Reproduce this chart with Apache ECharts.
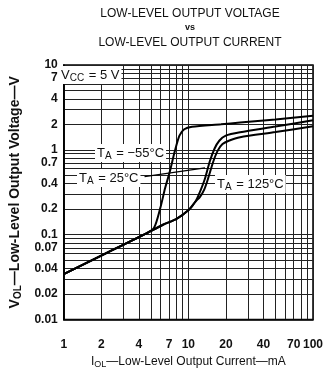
<!DOCTYPE html>
<html>
<head>
<meta charset="utf-8">
<script src="https://cdn.jsdelivr.net/npm/echarts@6/dist/echarts.min.js"></script>
<style>html,body{margin:0;padding:0;background:#fff;}#c{width:326px;height:374px;}</style>
</head>
<body>
<div id="c"></div>
<script>
// ---- data ----
const xTickLabels = [1, 2, 4, 7, 10, 20, 40, 70, 100];
const yTickLabels = [0.01, 0.02, 0.04, 0.07, 0.1, 0.2, 0.4, 0.7, 1, 2, 4, 7, 10];
const xGridValues = [1, 2, 3, 4, 5, 6, 7, 8, 9, 10, 20, 30, 40, 50, 60, 70, 80, 90, 100];
const yGridValues = [0.01, 0.02, 0.03, 0.04, 0.05, 0.06, 0.07, 0.08, 0.09,
                     0.1, 0.2, 0.3, 0.4, 0.5, 0.6, 0.7, 0.8, 0.9,
                     1, 2, 3, 4, 5, 6, 7, 8, 9, 10];

const iM55 = [1, 2, 3, 4.43, 5.29, 5.95, 6.5, 7.1, 7.76, 8.48, 9.27, 10.7, 18.3, 26, 50, 100];
const vM55 = [0.0343, 0.0567, 0.0761, 0.101, 0.12, 0.206, 0.352, 0.555, 0.948, 1.47, 1.75, 1.87, 2.0, 2.1, 2.28, 2.52];

const i25 = [1, 2, 3, 4.43, 6.31, 7.98, 10.1, 11.4, 12.1, 13.6, 14.8, 16.2, 17.7, 19.95, 26, 50, 100];
const v25 = [0.0343, 0.0567, 0.0761, 0.101, 0.132, 0.153, 0.197, 0.246, 0.294, 0.46, 0.72, 1.03, 1.28, 1.47, 1.61, 1.88, 2.23];

const i125 = [1, 2, 3, 4.43, 6.31, 7.98, 10.1, 11.4, 12.4, 13.4, 14.4, 15.8, 17.2, 18.8, 21.1, 26, 50, 100];
const v125 = [0.0343, 0.0567, 0.0761, 0.101, 0.132, 0.153, 0.197, 0.246, 0.28, 0.34, 0.46, 0.72, 0.98, 1.17, 1.28, 1.41, 1.62, 1.9];

const leader25 = [[4.45, 0.485], [13.6, 0.612]];

// ---- chart ----
const FONT = '"Liberation Sans", Arial, sans-serif';
const pairs = (xs, ys) => xs.map((x, k) => [x, ys[k]]);
const fmt = v => { const r = Math.round(v * 1000) / 1000; return String(r); };

const chart = echarts.init(document.getElementById('c'), null, {renderer: 'canvas'});

const curve = (name, xs, ys, extra) => Object.assign({
  name: name, type: 'line', data: pairs(xs, ys), showSymbol: false, symbol: 'none',
  smooth: 0.25, lineStyle: {color: '#000', width: 2}, z: 5, animation: false
}, extra || {});

const subRich = (size) => ({
  m: {fontSize: size, fontFamily: FONT, color: '#111', lineHeight: 16, verticalAlign: 'middle'},
  s: {fontSize: size - 3, fontFamily: FONT, color: '#111', lineHeight: 16, verticalAlign: 'bottom', padding: [0, 1, 0, 0]}
});

const labelBox = (x, y, text, size) => ({
  type: 'text', x: x, y: y, z: 100,
  style: {
    text: text, rich: subRich(size), align: 'left', verticalAlign: 'middle',
    backgroundColor: '#fff', padding: [1, 2, 1, 2], fill: '#111'
  }
});

chart.setOption({
  animation: false,
  backgroundColor: '#fff',
  textStyle: {fontFamily: FONT},
  title: {
    left: 185, top: 1, textAlign: 'center',
    text: '{a|LOW-LEVEL OUTPUT VOLTAGE}\n{v|vs}\n{b|LOW-LEVEL OUTPUT CURRENT}',
    textStyle: {
      align: 'center', fontWeight: 'normal',
      rich: {
        a: {fontSize: 12, fontWeight: 'normal', fontFamily: FONT, color: '#111', lineHeight: 16, align: 'center'},
        v: {fontSize: 9, fontWeight: 'bold', fontFamily: FONT, color: '#111', lineHeight: 11, align: 'center'},
        b: {fontSize: 12, fontWeight: 'normal', fontFamily: FONT, color: '#111', lineHeight: 20, align: 'center'}
      }
    }
  },
  grid: {left: 56, right: 9, top: 65, bottom: 51, show: true, borderColor: '#000', borderWidth: 1.5, backgroundColor: 'transparent'},
  xAxis: {
    type: 'log', logBase: 10, min: 1, max: 100,
    name: '{m|I}{s|OL}{m|\u2014Low-Level Output Current\u2014mA}',
    nameLocation: 'middle', nameGap: 31,
    nameTextStyle: {
      rich: {
        m: {fontSize: 12, fontFamily: FONT, color: '#111', lineHeight: 15},
        s: {fontSize: 9, fontFamily: FONT, color: '#111', lineHeight: 15, verticalAlign: 'bottom'}
      }
    },
    axisLine: {show: true, lineStyle: {color: '#000', width: 1.5}},
    axisTick: {show: false, customValues: xGridValues},
    axisLabel: {customValues: xTickLabels, formatter: fmt, fontSize: 12, fontWeight: 'bold', color: '#111', margin: 19, fontFamily: FONT},
    splitLine: {show: true, lineStyle: {color: '#222', width: 1}},
    minorTick: {show: false}, minorSplitLine: {show: false}
  },
  yAxis: {
    type: 'log', logBase: 10, min: 0.01, max: 10,
    name: '{m|V}{s|OL}{m|\u2014Low-Level Output Voltage\u2014V}',
    nameLocation: 'middle', nameGap: 36, nameRotate: 90,
    nameTextStyle: {
      rich: {
        m: {fontSize: 14, fontWeight: 'bold', fontFamily: FONT, color: '#111', lineHeight: 17},
        s: {fontSize: 10, fontWeight: 'bold', fontFamily: FONT, color: '#111', lineHeight: 17, verticalAlign: 'bottom'}
      }
    },
    axisLine: {show: true, lineStyle: {color: '#000', width: 1.5}},
    axisTick: {show: false, customValues: yGridValues},
    axisLabel: {customValues: yTickLabels, formatter: fmt, fontSize: 12, fontWeight: 'bold', color: '#111', margin: 6, fontFamily: FONT},
    splitLine: {show: true, lineStyle: {color: '#222', width: 1}},
    minorTick: {show: false}, minorSplitLine: {show: false}
  },
  series: [
    curve('TA = -55°C', iM55, vM55),
    curve('TA = 25°C', i25, v25, {
      markLine: {
        silent: true, symbol: ['none', 'arrow'], symbolSize: [0, 7], animation: false,
        lineStyle: {color: '#000', width: 1.3, type: 'solid'}, label: {show: false},
        data: [[{coord: leader25[0]}, {coord: leader25[1]}]]
      }
    }),
    curve('TA = 125°C', i125, v125)
  ],
  graphic: [
    labelBox(59, 75, '{m|V}{s|CC}{m| = 5 V}', 13),
    labelBox(95, 153, '{m|T}{s|A}{m| = \u221255\u00b0C}', 13),
    labelBox(77, 178, '{m|T}{s|A}{m| = 25\u00b0C}', 13),
    labelBox(215, 184, '{m|T}{s|A}{m| = 125\u00b0C}', 13)
  ]
});
</script>
</body>
</html>
